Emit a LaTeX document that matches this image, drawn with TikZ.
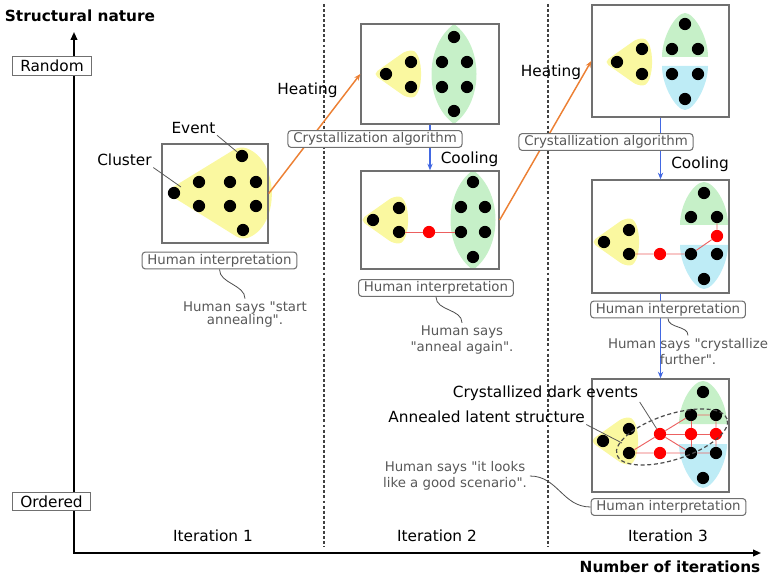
\documentclass[tikz,border=0pt]{standalone}
\usepackage{fontspec}
\setmainfont{DejaVu Sans}
\usetikzlibrary{arrows.meta,shapes.geometric}
\definecolor{clyellow}{RGB}{250,248,160}
\definecolor{clgreen}{RGB}{198,240,200}
\definecolor{clcyan}{RGB}{190,236,246}
\definecolor{heatorange}{RGB}{236,128,52}
\definecolor{coolblue}{RGB}{66,104,226}
\definecolor{framegray}{RGB}{112,112,112}
\definecolor{notegray}{RGB}{88,88,88}
\definecolor{bondred}{RGB}{236,96,96}
\newcommand{\qq}{\textquotedbl}
\tikzset{
  event/.style={
    shape = circle,
    fill = black,
    inner sep = 0pt,
    minimum size = 9.2pt
  },
  darkevent/.style={
    event,
    fill = red
  },
  panel/.style={
    draw = framegray,
    line width = 1pt,
    inner sep = 0pt
  },
  note/.style={
    draw = framegray,
    fill = white,
    line width = 0.8pt,
    rounded corners = 2.5pt,
    text = notegray,
    inner xsep = 4pt,
    inner ysep = 1.5pt,
    font = \fontsize{10}{12}\selectfont
  },
  says/.style={
    text = notegray,
    align = center,
    inner sep = 2pt,
    font = \fontsize{10}{12}\selectfont
  },
  tag/.style={
    inner sep = 1pt,
    font = \fontsize{11.5}{13}\selectfont
  },
  extreme/.style={
    draw = framegray,
    fill = white,
    line width = 0.8pt,
    inner xsep = 6pt,
    inner ysep = 2.5pt,
    font = \fontsize{11.5}{13}\selectfont
  },
  axistitle/.style={
    font = \fontsize{11.5}{13}\selectfont\bfseries
  },
  axisline/.style={line width = 1.3pt, {Triangle[length=6pt,width=5pt]}-{Triangle[length=6pt,width=5pt]}},
  itersep/.style={draw = black!75, line width = 0.8pt, dash pattern = on 2.2pt off 1.6pt},
  heat/.style={draw = heatorange, line width = 1.1pt, -{Stealth[length=5pt,width=4pt]}},
  cool/.style={draw = coolblue, line width = 1pt, -{Stealth[length=5pt,width=4pt]}},
  bond/.style={draw = bondred, line width = 0.7pt},
  leader/.style={draw = black!65, line width = 0.6pt},
  squiggle/.style={draw = black!70, line width = 0.6pt},
  latent/.style={
    shape = ellipse,
    draw = black!70,
    line width = 0.9pt,
    dash pattern = on 3pt off 2pt,
    inner sep = 0pt
  }
}
\begin{document}
\begin{tikzpicture}[x=0.75pt,y=-0.75pt]
  \useasboundingbox (0,0) rectangle (770,580);
  % axes and columns
  \coordinate (ytip) at (74,32);
  \coordinate (origin) at (74,553);
  \coordinate (xtip) at (761,553);
  \draw[itersep] (324,4) -- (324,547);
  \draw[itersep] (548,4) -- (548,547);
  \draw[axisline] (ytip) -- (origin) -- (xtip);
  \node[axistitle] (ytitle) at (80,16) {Structural nature};
  \node[axistitle] (xtitle) at (670,567) {Number of iterations};
  \node[extreme] (random) at (52,66) {Random};
  \node[extreme] (ordered) at (51.5,501.5) {Ordered};
  \node[tag] (iter1) at (213,536) {Iteration 1};
  \node[tag] (iter2) at (437,536) {Iteration 2};
  \node[tag] (iter3) at (668,536) {Iteration 3};

  % clusters
  \fill[clyellow, rounded corners=5] (165,192) -- (240,146) .. controls (280,160) and (280,226) .. (242,240) -- cycle;
  \foreach \x/\y in {386/74,373/220,617/62,604/242,603/441}
    \fill[clyellow, rounded corners=4, shift={(\x,\y)}] (-13,0) -- (21,-24) .. controls (38,-22) and (38,22) .. (21,24) -- cycle;
  \foreach \x/\y in {454/74,473/220}
    \fill[clgreen, shift={(\x,\y)}] (0,-50) .. controls (30,-28) and (30,28) .. (0,50) .. controls (-30,28) and (-30,-28) .. cycle;
  \fill[clgreen] (662,57) .. controls (662,36) and (676,13) .. (685,13) .. controls (694,13) and (708,36) .. (708,57) -- cycle;
  \fill[clcyan] (662,66) -- (708,66) .. controls (708,86) and (694,110) .. (685,110) .. controls (676,110) and (662,86) .. cycle;
  \foreach \x/\y in {704/193,703/392}{
    \fill[clgreen, shift={(\x,\y)}] (-24,32) .. controls (-24,10) and (-10,-11) .. (0,-11) .. controls (10,-11) and (24,10) .. (24,32) -- cycle;
    \fill[clcyan, shift={(\x,\y)}] (-24,52) -- (24,52) .. controls (24,72) and (10,96) .. (0,96) .. controls (-10,96) and (-24,72) .. cycle;
  }

  % events
  \foreach \x/\y [count=\i] in {242/156,199/182,230/182,256/182,174/193,199/206,230/206,256/206,243/230}
    \node[event] (a\i) at (\x,\y) {};
  \foreach \x/\y [count=\i] in {386/74,411/62,411/87,454/37,442/62,467/62,442/87,467/87,454/111}
    \node[event] (b\i) at (\x,\y) {};
  \foreach \x/\y [count=\i] in {373/220,399/208,399/232,473/182,461/207,485/207,461/232,485/232,473/257}
    \node[event] (c\i) at (\x,\y) {};
  \node[darkevent] (cr1) at (429,232) {};
  \draw[bond] (c3) -- (cr1) -- (c7);
  \foreach \x/\y [count=\i] in {617/62,642/49,642/74,685/24,672/49,698/49,672/74,698/74,685/99}
    \node[event] (d\i) at (\x,\y) {};
  \foreach \x/\y [count=\i] in {604/242,629/230,629/254,704/193,691/217,717/217,691/254,717/254,704/279}
    \node[event] (e\i) at (\x,\y) {};
  \node[darkevent] (er1) at (660,254) {};
  \node[darkevent] (er2) at (717,236) {};
  \draw[bond] (e3) -- (er1) -- (e7) -- (er2) -- (e6);
  \foreach \x/\y [count=\i] in {603/441,629/429,629/453,703/392,691/415,716/415,691/453,716/453,703/478}
    \node[event] (f\i) at (\x,\y) {};
  \foreach \x/\y [count=\i] in {660/434,660/453,691/434,716/434}
    \node[darkevent] (fr\i) at (\x,\y) {};
  \draw[bond] (f3) -- (fr1) -- (f5) -- (f6) -- (fr4) -- (f8) -- (f7) -- (fr2) -- (f3);
  \draw[bond] (fr1) -- (fr3) -- (fr4);
  \draw[bond] (f5) -- (fr3) -- (f7);
  \draw[bond] (fr1) -- (f7);

  % panels
  \node[panel, minimum width=79.5pt, minimum height=74.25pt] (p1) at (215,193.5) {};
  \node[panel, minimum width=103.5pt, minimum height=75pt] (p2) at (430,74) {};
  \node[panel, minimum width=103.5pt, minimum height=73.5pt] (p3) at (430,220) {};
  \node[panel, minimum width=102.75pt, minimum height=84pt] (p4) at (660.5,61) {};
  \node[panel, minimum width=102.75pt, minimum height=84.75pt] (p5) at (660.5,236.5) {};
  \node[panel, minimum width=102.75pt, minimum height=84.75pt] (p6) at (660.5,435.5) {};
  \draw[heat] (p1.east) -- (p2.west);
  \draw[heat] (p3.east) -- (p4.west);
  \draw[cool] (p2.south) -- (p3.north);
  \draw[cool] (p4.south) -- (p5.north);
  \draw[cool] (p5.south) -- (p6.north);

  \node[note] (algo1) at (375,139) {Crystallization algorithm};
  \node[note] (algo2) at (606,142) {Crystallization algorithm};
  \node[note] (interp1) at (219.5,260.5) {Human interpretation};
  \node[note] (interp2) at (436,288) {Human interpretation};
  \node[note] (interp3) at (668,309.5) {Human interpretation};
  \node[note] (interp4) at (668.5,507) {Human interpretation};

  \node[tag] (heat1) at (307.5,90) {Heating};
  \node[tag] (heat2) at (551,72) {Heating};
  \node[tag] (cool1) at (469.5,159) {Cooling};
  \node[tag] (cool2) at (700,164) {Cooling};
  \node[tag] (lbevent) at (193.5,128) {Event};
  \node[tag] (lbcluster) at (124.5,160) {Cluster};
  \coordinate (clusterpt) at (181,187);
  \draw[leader] (lbevent.south east) -- (a1);
  \draw[leader] (lbcluster.south east) -- (clusterpt);

  \node[latent, minimum width=87pt, minimum height=34pt, rotate=18] (latent) at (672,437) {};
  \node[tag] (lbdark) at (545.5,393) {Crystallized dark events};
  \node[tag] (lblatent) at (486.5,417) {Annealed latent structure};
  \coordinate (latentpt) at (622,443);
  \draw[leader] (lbdark.south east) -- (fr1);
  \draw[leader] (lblatent.south east) -- (latentpt);

  \node[says, font=\fontsize{10}{10}\selectfont] (says1) at (245,314.5) {Human says \qq start\\annealing\qq.};
  \node[says] (says2) at (462,340) {Human says\\\qq anneal again\qq.};
  \node[says] (says3) at (688,351.5) {Human says \qq crystallize\\further\qq.};
  \node[says] (says4) at (455,476) {Human says \qq it looks\\like a good scenario\qq.};
  \draw[squiggle] (interp1.south) .. controls +(0,14) and +(0,-14) .. (says1.north);
  \draw[squiggle] (interp2.south) .. controls +(0,14) and +(0,-14) .. (says2.north);
  \draw[squiggle] (interp3.south) .. controls +(0,10) and +(0,-10) .. (says3.north);
  \draw[squiggle] (says4.east) .. controls +(28,0) and +(-28,0) .. (interp4.west);
\end{tikzpicture}
\end{document}
